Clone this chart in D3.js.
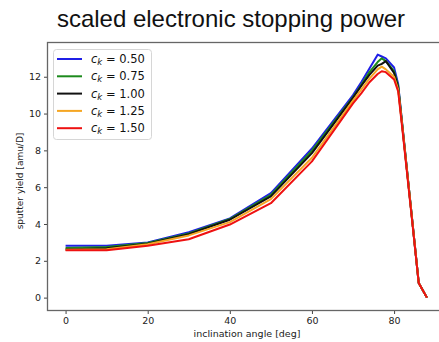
<!DOCTYPE html>
<html>
<head>
<meta charset="utf-8">
<script src="https://cdn.jsdelivr.net/npm/d3@7"></script>
<style>
  html, body { margin: 0; padding: 0; background: #fff; }
  svg { display: block; }
</style>
</head>
<body>
<div id="chart"></div>
<script>
// inclination angles [deg]
const angles = [0, 10, 20, 30, 40, 50, 60, 70, 72, 74, 76, 77, 78, 80, 81, 82, 84, 86, 88];

// sputter yield per scaling factor c_k
const ck050 = [2.82, 2.82, 3.0, 3.55, 4.3, 5.68, 8.1, 11.0, 11.7, 12.45, 13.2, 13.1, 13.0, 12.5, 11.6, 9.4, 5.1, 0.8, 0.0];
const ck075 = [2.7, 2.75, 2.97, 3.48, 4.27, 5.58, 7.98, 10.9, 11.55, 12.25, 12.8, 13.0, 12.85, 12.3, 11.5, 9.4, 5.1, 0.8, 0.0];
const ck100 = [2.62, 2.68, 2.93, 3.45, 4.23, 5.5, 7.85, 10.85, 11.5, 12.1, 12.6, 12.7, 12.85, 12.2, 11.4, 9.3, 5.1, 0.8, 0.0];
const ck125 = [2.6, 2.63, 2.9, 3.38, 4.1, 5.35, 7.6, 10.7, 11.3, 11.9, 12.4, 12.55, 12.4, 12.0, 11.3, 9.3, 5.1, 0.8, 0.0];
const ck150 = [2.57, 2.57, 2.82, 3.17, 3.97, 5.13, 7.4, 10.55, 11.1, 11.7, 12.15, 12.3, 12.25, 11.85, 11.2, 9.2, 5.0, 0.8, 0.0];

const seriesNames = ['0.50', '0.75', '1.00', '1.25', '1.50'];
const seriesValues = [ck050, ck075, ck100, ck125, ck150];
const seriesColors = ['#1f1fe6', '#1c8a1c', '#111111', '#f5a623', '#ee1111'];

const xTicks = [0, 20, 40, 60, 80];
const yTicks = [0, 2, 4, 6, 8, 10, 12];

const width = 439, height = 342;
const margin = { left: 47.5, top: 42.5, right: -6, bottom: 31.5 };

const svg = d3.select('#chart').append('svg')
    .attr('width', width)
    .attr('height', height);

const x = d3.scaleLinear()
    .domain([-4.4, 92.4])
    .range([margin.left, width - margin.right]);

const y = d3.scaleLinear()
    .domain([-0.7, 13.86])
    .range([height - margin.bottom, margin.top]);

// title
svg.append('text')
    .attr('x', 231)
    .attr('y', 27)
    .attr('text-anchor', 'middle')
    .style('font-family', '"Liberation Sans", Arial, sans-serif')
    .style('font-size', '24px')
    .style('fill', '#111')
    .text('scaled electronic stopping power');

// axes
const xAxis = svg.append('g')
    .attr('transform', `translate(0,${height - margin.bottom})`)
    .call(d3.axisBottom(x).tickValues(xTicks).tickSize(3.5).tickPadding(3).tickSizeOuter(0));

const yAxis = svg.append('g')
    .attr('transform', `translate(${margin.left},0)`)
    .call(d3.axisLeft(y).tickValues(yTicks).tickSize(3.5).tickPadding(3).tickSizeOuter(0));

[xAxis, yAxis].forEach(g => {
    g.select('.domain').remove();
    g.selectAll('line').attr('stroke', '#444').attr('stroke-width', 1);
    g.selectAll('text')
        .style('font-family', '"DejaVu Sans", sans-serif')
        .style('font-size', '9.5px')
        .style('fill', '#222');
});

// clip region and frame
svg.append('clipPath').attr('id', 'plot-clip')
    .append('rect')
    .attr('x', margin.left).attr('y', margin.top)
    .attr('width', width - margin.right - margin.left)
    .attr('height', height - margin.bottom - margin.top);

const line = d3.line()
    .x((d, i) => x(angles[i]))
    .y(d => y(d));

svg.append('g')
    .attr('clip-path', 'url(#plot-clip)')
    .selectAll('path')
    .data(seriesValues)
    .join('path')
    .attr('d', line)
    .attr('fill', 'none')
    .attr('stroke', (d, i) => seriesColors[i])
    .attr('stroke-width', 2)
    .attr('stroke-linejoin', 'round');

svg.append('rect')
    .attr('x', margin.left)
    .attr('y', margin.top)
    .attr('width', width - margin.right - margin.left)
    .attr('height', height - margin.bottom - margin.top)
    .attr('fill', 'none')
    .attr('stroke', '#666')
    .attr('stroke-width', 1.3);

// axis labels
svg.append('text')
    .attr('x', 247)
    .attr('y', 337)
    .attr('text-anchor', 'middle')
    .style('font-family', '"DejaVu Sans", sans-serif')
    .style('font-size', '9.5px')
    .style('fill', '#222')
    .text('inclination angle [deg]');

svg.append('text')
    .attr('transform', 'translate(23,181) rotate(-90)')
    .attr('text-anchor', 'middle')
    .style('font-family', '"DejaVu Sans", sans-serif')
    .style('font-size', '9px')
    .style('fill', '#222')
    .text('sputter yield [amu/D]');

// legend
const legend = svg.append('g');
legend.append('rect')
    .attr('x', 53.5).attr('y', 49.5)
    .attr('width', 98).attr('height', 90)
    .attr('rx', 3)
    .attr('fill', '#fff')
    .attr('fill-opacity', 0.85)
    .attr('stroke', '#d6d6d6');

const rows = legend.selectAll('g.row')
    .data(seriesNames)
    .join('g')
    .attr('class', 'row')
    .attr('transform', (d, i) => `translate(0,${59 + i * 17.3})`);

rows.append('line')
    .attr('x1', 57).attr('x2', 82)
    .attr('stroke', (d, i) => seriesColors[i])
    .attr('stroke-width', 2);

const label = rows.append('text')
    .attr('x', 91)
    .attr('y', 4)
    .style('font-family', '"DejaVu Sans", sans-serif')
    .style('font-size', '11.5px')
    .style('fill', '#111');
label.append('tspan').style('font-style', 'italic').text('c');
label.append('tspan').style('font-style', 'italic').style('font-size', '8.5px').attr('dy', 2).text('k');
label.append('tspan').attr('dy', -2).text(d => ' = ' + d);
</script>
</body>
</html>
